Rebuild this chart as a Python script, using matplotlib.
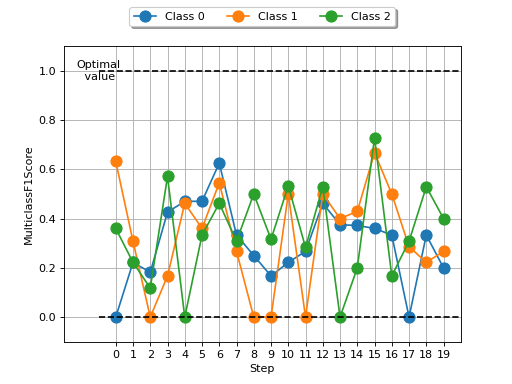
import matplotlib
matplotlib.use("Agg")
import matplotlib.pyplot as plt
import numpy as np

# Per-step F1 scores
steps = list(range(20))
class0 = [0.0, 0.222, 0.182, 0.426, 0.47, 0.47, 0.625, 0.333, 0.25, 0.167,
          0.222, 0.267, 0.462, 0.375, 0.372, 0.36, 0.333, 0.0, 0.333, 0.2]
class1 = [0.632, 0.308, 0.0, 0.167, 0.462, 0.36, 0.545, 0.267, 0.0, 0.0,
          0.5, 0.0, 0.5, 0.4, 0.429, 0.667, 0.5, 0.286, 0.222, 0.267]
class2 = [0.36, 0.222, 0.118, 0.571, 0.0, 0.333, 0.462, 0.308, 0.5, 0.316,
          0.533, 0.283, 0.529, 0.0, 0.2, 0.727, 0.167, 0.308, 0.529, 0.4]
labels = ["Class 0", "Class 1", "Class 2"]

fig, ax = plt.subplots(figsize=(6.4, 4.8), dpi=80)

for vals, lab in zip([class0, class1, class2], labels):
    ax.plot(steps, vals, marker='o', markersize=10, label=lab)

# Optimal / worst reference lines
ax.hlines([0, 1], -1, 20, colors='k', linestyles='dashed')
ax.text(-1, 1.0, "Optimal\n value", ha='center', va='center')

ax.set_xlim(-3, 20)
ax.set_ylim(-0.1, 1.1)
ax.set_xticks(steps)
ax.set_yticks(np.arange(0, 1.01, 0.2))
ax.set_xlabel("Step")
ax.set_ylabel("MulticlassF1Score")
ax.grid(True)
ax.legend(loc='upper center', bbox_to_anchor=(0.5, 1.15), ncol=3,
          fancybox=True, shadow=True)

fig.savefig("out.png", dpi=80)
